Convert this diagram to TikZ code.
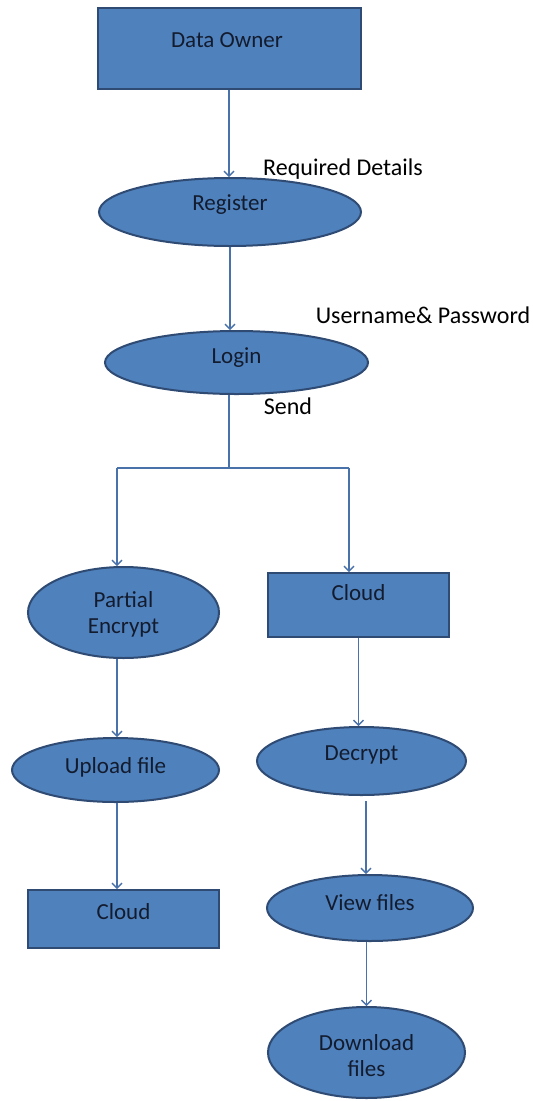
\documentclass[tikz,border=0pt]{standalone}
\usepackage{fontspec}
\setmainfont{Carlito}
\usetikzlibrary{shapes.geometric,arrows.meta}
\definecolor{boxfill}{HTML}{4F81BD}
\definecolor{boxline}{HTML}{2F4B73}
\definecolor{arrcol}{HTML}{4A72AA}
\definecolor{intext}{HTML}{131C2E}
\tikzset{
  shapebase/.style={fill=boxfill, draw=boxline, line width=2pt, inner sep=0pt},
  rectbox/.style={shapebase, rectangle},
  ellbox/.style={shapebase, ellipse},
  intxt/.style={text=intext, font=\fontsize{23}{25}\selectfont, align=center, inner sep=0pt},
  outtxt/.style={text=black, font=\fontsize{24}{26}\selectfont, inner sep=0pt},
  arr/.style={draw=arrcol, line width=1.4pt, -{Straight Barb[length=5pt,width=10pt]}},
  conn/.style={draw=arrcol, line width=1.4pt},
}
\begin{document}
\begin{tikzpicture}[x=1pt,y=-1pt]
\useasboundingbox[fill=white] (0,0) rectangle (533,1101);

% nodes
\node[rectbox, minimum width=263pt, minimum height=81pt] (own) at (229.5,48.5) {};
\node[intxt] (owntxt) at (227,40) {Data Owner};

\node[ellbox, minimum width=262pt, minimum height=68pt] (reg) at (230,212) {};
\node[intxt] (regtxt) at (230,205) {Register};
\node[outtxt] (reqd) at (343,169) {Required Details};

\node[ellbox, minimum width=263pt, minimum height=63pt] (login) at (236.5,362.5) {};
\node[intxt] (logintxt) at (236.5,358) {Login};
\node[outtxt] (userpw) at (423,315) {Username\&\ Password};
\node[outtxt] (send) at (288,406) {Send};

\coordinate (j) at (229,468);
\coordinate (jl) at (117,468);
\coordinate (jr) at (349,468);

\node[ellbox, minimum width=191pt, minimum height=91pt] (pe) at (123.5,612.5) {};
\node[intxt] (petxt) at (123.5,614) {Partial\\[1pt]Encrypt};

\node[rectbox, minimum width=181pt, minimum height=64pt] (cloudR) at (358.5,605) {};
\node[intxt] (cloudRtxt) at (358.5,593) {Cloud};

\node[ellbox, minimum width=207pt, minimum height=64pt] (up) at (115.5,770) {};
\node[intxt] (uptxt) at (115.5,767) {Upload file};

\node[rectbox, minimum width=191pt, minimum height=58pt] (cloudL) at (123.5,919) {};
\node[intxt] (cloudLtxt) at (123.5,912) {Cloud};

\node[ellbox, minimum width=209pt, minimum height=68pt] (dec) at (361.5,761) {};
\node[intxt] (dectxt) at (361.5,755) {Decrypt};

\node[ellbox, minimum width=206pt, minimum height=66pt] (view) at (370,908) {};
\node[intxt] (viewtxt) at (370,903) {View files};

\node[ellbox, minimum width=197pt, minimum height=91pt] (dl) at (366.5,1052.5) {};
\node[intxt] (dltxt) at (366.5,1056) {Download\\[1pt]files};

% connectors
\draw[arr] (own.south -| j) -- (j |- reg.north);
\draw[arr] ([xshift=1pt]reg.south -| j) -- ([xshift=1pt]j |- login.north);
\draw[conn] (login.south -| j) -- (j);
\draw[conn] (jl) -- (jr);
\draw[arr] (jl) -- (jl |- pe.north);
\draw[arr] (jr) -- (jr |- cloudR.north);
\draw[arr] (pe.south -| jl) -- (jl |- up.north);
\draw[arr] (up.south -| jl) -- (jl |- cloudL.north);
\draw[arr] (cloudR.south) -- (cloudR.south |- dec.north);
\draw[arr, shorten <=5pt] ([xshift=4.5pt]dec.south) -- ([xshift=4.5pt]dec.south |- view.north);
\draw[arr] (view.south -| dl.north) -- (dl.north);
\end{tikzpicture}
\end{document}
